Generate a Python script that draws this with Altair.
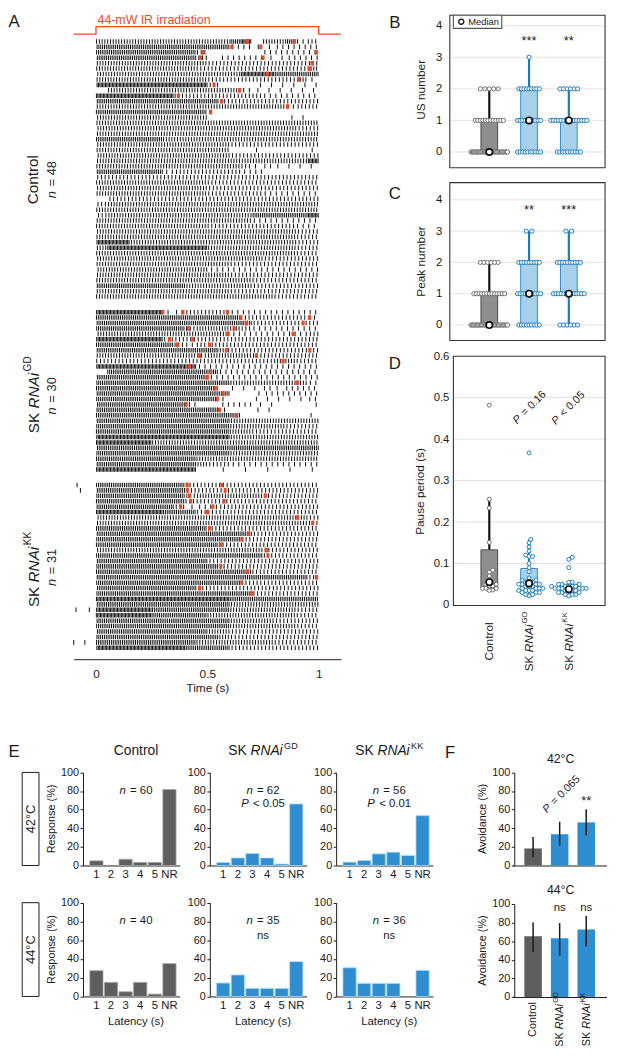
import math
import altair as alt
import pandas as pd

W, H = 609, 1038
FONT = "Liberation Sans"
INK = "#1a1a1a"
RED = "#ea4a2c"
GRAY_BOX, GRAY_EDGE = "#8e8e8e", "#4a4a4a"
BLUE_BOX, BLUE_EDGE = "#a7d0ec", "#3a8cc8"
BLUE_LINE, BLUE_PT, GRAY_PT = "#1f7ab9", "#1c7cc2", "#6e6e6e"
GRAY_BAR, BLUE_BAR = "#5e5e5e", "#2f8ecf"

# ---------------- data ----------------
GROUPS = ["Control", "GD", "KK"]

# Panel A: spikes per 50-ms bin (digit code) for each trial, US (red) times, pre-stimulus spikes
C_ROWS = [
    "55555555555567055623", "66666666666622112222", "66666666640000022222", "66666666630222211222",
    "55555555554444444444", "55555555544444444445", "55555555555557776666", "55555555554444444451",
    "77777777773000111111", "05555555555552111111", "77777773333333322222", "66666666666344444444",
    "55555555555555555244", "66666666661000000000", "55555555550000000110", "55555555555555555555",
    "55555555555555555544", "55555555555555555555", "66666655555555555555", "55555555555544433333",
    "55555555555500100001", "55555555555543334444", "55555555555555555557", "55555555555553121111",
    "66666623333332200000", "44444444333333333333", "55555555553333333333", "55555555554444444444",
    "55555555553333322222", "04444433333333333333", "45555555555555555555", "55555555555555555555",
    "45555555555555666667", "55555555555555222222", "55555555554444333322", "55555555555555555544",
    "55555555555555555544", "77755555555555555544", "57777777775555555544", "55555555555555555544",
    "55555555555555544444", "55555555555544444444", "55555555552222222222", "55555555555544444444",
    "55555555555555333333", "66666666555555444444", "55555555555544444444", "55555555555555554444",
]
C_REDS = [[0.68, 0.89], [0.61, 0.74], [0.48, 0.99], [0.47, 0.75], [0.97], [0.958], [0.77], [0.91],
          [0.53], [0.645], [0.37], [0.565], [0.86], [0.515]] + [[]] * 34
G_ROWS = [
    "77777712444422222222", "66666666666663333332", "66666666666666444444", "66666666355554222222",
    "55555555555522222224", "77777733444444444444", "66666663244444444444", "66666666666544444444",
    "55555555535555444444", "33333333444444445544", "77777777722222222222", "06666666666222222222",
    "66666666662222222222", "66666666666655555552", "66666666666011121222", "66666666666600122222",
    "66666666666100111112", "66666666200222110001", "66666666666100110000", "66666666666660000001",
    "66666666666655555555", "66666666666655555444", "66666666666655444444", "77777777777755555555",
    "77777555555555555555", "66666666666666666666", "66666666666655555555", "66666666655555555555",
    "66666666653322222222", "77777777700101010101",
]
G_REDS = [[0.30, 0.39, 0.59], [0.65, 0.96], [0.675, 0.93], [0.415, 0.62], [0.59, 0.885], [0.33, 0.435],
          [0.365, 0.51], [0.585, 0.96], [0.465, 0.72], [0.84], [0.42], [0.515], [0.50], [0.905], [0.535],
          [0.57], [0.545], [0.405], [0.555], [0.63]] + [[]] * 10
K_ROWS = [
    "66666666344444444444", "66666666344444444444", "66666666455555544444", "66666666344444444444",
    "66666663122444444444", "77777766634444444444", "55555555555555555553", "55555555555555555554",
    "66666666664444444444", "66666666666666444444", "66666666666664444444", "66666666666444444444",
    "55555555555555544444", "66666666666666644444", "66666666664433334444", "66666666666444444444",
    "66666666666666444444", "66666666666666666664", "66666666666663444444", "66666666633444444444",
    "66666666666666344444", "77777777777766666666", "66666666666655555555", "77777666666655555544",
    "77777666665555555544", "66666666666655554444", "66666666666655555544", "66666666665544444444",
    "66666666666544444444", "66666666655555554444", "77777777666644444444",
]
K_REDS = [[0.41, 0.565], [0.41, 0.58], [0.42, 0.76], [0.425, 0.575], [0.38, 0.525], [0.50], [0.905],
          [0.973], [0.51], [0.686], [0.656], [0.56], [0.765], [0.772], [], [0.56], [0.68], [0.99],
          [0.655], [0.465], [0.70]] + [[]] * 10
K_PRE = [[-0.085], [-0.07]] + [[]] * 21 + [[-0.09, -0.03]] + [[]] * 5 + [[-0.1, -0.05]] + [[]]
STIM_T = [-0.1, 0.0, 0.0, 1.0, 1.0, 1.1]
STIM_ON = [0, 0, 1, 1, 0, 0]

# Panels B, C: number of flies at each count value
COUNT_VALUES = [0, 1, 2, 3]
B_N = {"Control": [31, 12, 5, 0], "GD": [10, 10, 9, 1], "KK": [10, 15, 6, 0]}
C_N = {"Control": [29, 13, 6, 0], "GD": [9, 10, 9, 2], "KK": [6, 13, 10, 2]}
B_Q1, B_Q3, B_WLO, B_WHI, B_MED = [0, 0, 0], [1, 2, 1], [0, 0, 0], [2, 3, 2], [0, 1, 1]
C_Q1, C_Q3, C_WLO, C_WHI, C_MED = [0, 0, 1], [1, 2, 2], [0, 0, 0], [2, 3, 3], [0, 1, 1]
# Panel D: pause periods (s)
D_CONTROL = [0.482, 0.255, 0.234, 0.151, 0.084, 0.079, 0.07, 0.06, 0.05, 0.05, 0.046, 0.046,
             0.04, 0.04, 0.04, 0.036, 0.035]
D_GD = [0.367, 0.158, 0.15, 0.14, 0.13, 0.12, 0.117, 0.117, 0.1, 0.09, 0.08, 0.065, 0.06, 0.06,
        0.055, 0.055, 0.055, 0.05, 0.05, 0.05, 0.05, 0.045, 0.045, 0.045, 0.04, 0.04, 0.04, 0.04,
        0.035, 0.035, 0.035, 0.035, 0.03, 0.03, 0.03, 0.025, 0.025, 0.022]
D_KK = [0.115, 0.11, 0.09, 0.055, 0.055, 0.05, 0.05, 0.05, 0.045, 0.045, 0.045, 0.045, 0.045,
        0.04, 0.04, 0.04, 0.04, 0.04, 0.04, 0.035, 0.035, 0.035, 0.035, 0.03, 0.03, 0.03, 0.025,
        0.025, 0.025, 0.022]
D_Q1, D_Q3 = [0.042, 0.036, 0.030], [0.133, 0.088, 0.050]
D_WLO, D_WHI, D_MED = [0.035, 0.022, 0.022], [0.255, 0.158, 0.055], [0.055, 0.052, 0.038]

# Panel E: response latency distributions (%)
LAT = ["1", "2", "3", "4", "5", "NR"]
E42 = {"Control": [5.0, 0.0, 6.7, 3.3, 3.3, 81.7], "GD": [3.2, 8.1, 12.9, 8.1, 1.6, 66.1],
       "KK": [3.6, 5.4, 12.5, 14.3, 10.7, 53.6]}
E44 = {"Control": [27.5, 15.0, 5.0, 15.0, 2.5, 35.0], "GD": [14.3, 22.9, 8.6, 8.6, 8.6, 37.1],
       "KK": [30.6, 13.9, 13.9, 13.9, 0.0, 27.8]}
E_N42 = ["60", "62", "56"]
E_P42 = ["", "< 0.05", "< 0.01"]
E_N44 = ["40", "35", "36"]
E_P44 = ["", "ns", "ns"]
# Panel F: avoidance (%) with error bars
F42, F42_LO, F42_HI = [18.3, 33.6, 46.3], [8.8, 21.2, 32.5], [30.7, 47.0, 60.4]
F44, F44_LO, F44_HI = [65.3, 63.2, 72.7], [48.4, 44.5, 54.7], [80.2, 79.5, 87.0]

# ---------------- helpers ----------------
def cx(p):
    return round(p - 8.0, 2)

def cy(p):
    return round(p - 8.0, 2)

ONE = pd.DataFrame({"k": [0]})
EM = {" ": .278, ".": .278, ",": .278, "-": .333, "=": .584, "<": .584, "(": .333, ")": .333,
      "%": .889, "*": .389, "°": .4, "A": .667, "C": .722, "D": .722, "G": .778, "K": .667,
      "N": .722, "P": .667, "R": .722, "S": .667, "U": .722, "W": .944, "I": .278, "a": .556,
      "c": .5, "d": .556, "e": .556, "i": .222, "l": .222, "m": .833, "n": .556, "o": .556,
      "p": .556, "r": .333, "s": .5, "t": .278, "u": .556, "v": .5, "y": .5}

def tw(s, size):
    return sum(EM.get(c, 0.556) for c in s) * size

layers = []

def text(s, x, y, size=12, angle=0, align="center", baseline="middle", color=INK, style="normal", dy=0):
    return alt.Chart(ONE).mark_text(align=align, baseline=baseline, angle=angle % 360, fontSize=size,
                                    fontStyle=style, color=color, font=FONT, dy=dy).encode(
        x=alt.value(cx(x)), y=alt.value(cy(y)), text=alt.value(s))

def rich(parts, x, y, size, angle=0, color=INK):
    """Pieces of mixed-style text laid end to end; leading/trailing blanks become offsets."""
    items, total = [], 0.0
    prev = None
    for s, kind in parts:
        fs = size * 0.66 if kind == "sup" else size
        if prev == "i":
            total += 0.1 * size
        lead = len(s) - len(s.lstrip(" "))
        total += lead * EM[" "] * fs
        core = s.strip(" ")
        items.append((core, kind, fs, total))
        total += tw(core, fs)
        trail = len(s) - len(s.rstrip(" "))
        total += trail * EM[" "] * fs
        prev = kind
    th = math.radians(angle)
    sx = x - total / 2 * math.cos(th)
    sy = y - total / 2 * math.sin(th)
    out = []
    for s, kind, fs, off in items:
        out.append(alt.Chart(ONE).mark_text(
            align="left", baseline="middle", angle=angle % 360, fontSize=fs,
            fontStyle="italic" if kind == "i" else "normal", dx=round(off, 2),
            dy=round(-0.36 * size, 2) if kind == "sup" else 0, color=color, font=FONT).encode(
            x=alt.value(cx(sx)), y=alt.value(cy(sy)), text=alt.value(s)))
    return out

def sk(tag):
    return [("SK ", "n"), ("RNAi", "i"), (tag, "sup")]

def frame(x0, x1, y0, y1, stroke="#333", fill="white", fop=0.0, sw=1.1):
    return alt.Chart(ONE).mark_rect(fill=fill, fillOpacity=fop, stroke=stroke, strokeWidth=sw).encode(
        x=alt.value(cx(x0)), x2=alt.value(cx(x1)), y=alt.value(cy(y0)), y2=alt.value(cy(y1)))

# ---------------- Panel A: raster ----------------
COUNT = {"0": 0, "1": 1, "2": 2, "3": 3, "4": 3, "5": 4, "6": 6, "7": 8}
BIN = 0.05
ROW0 = {"C": 0.0, "G": 49.87, "K": 81.7}
spk_t, spk_r, red_t, red_r = [], [], [], []
for key, rows, reds in (("C", C_ROWS, C_REDS), ("G", G_ROWS, G_REDS), ("K", K_ROWS, K_REDS)):
    for i, pat in enumerate(rows):
        r = ROW0[key] + i
        ph = ((i * 0.618 + ROW0[key] * 0.37) % 1.0) - 0.5
        for b, ch in enumerate(pat):
            n = COUNT[ch]
            for j in range(n):
                spk_t.append(round(b * BIN + (j + 0.5 + 0.6 * ph) * BIN / n, 4))
                spk_r.append(r)
        for t in reds[i]:
            red_t.append(t)
            red_r.append(r)
        if key == "K":
            for t in K_PRE[i]:
                spk_t.append(t)
                spk_r.append(r)

XA = alt.Scale(domain=[-0.1, 1.1], range=[cx(74.6), cx(345.4)], nice=False, zero=False)
YA = alt.Scale(domain=[0, 111.7], range=[cy(35), cy(649.4)], nice=False, zero=False)
layers.append(alt.Chart(pd.DataFrame({"t": spk_t, "r": spk_r})).mark_tick(
    orient="vertical", thickness=1.0, size=4.6, color="#0d0d0d", opacity=1).encode(
    x=alt.X("t:Q", scale=XA, axis=alt.Axis(orient="bottom", offset=cy(661) - H, values=[0, 0.5, 1],
                                          format="~g", tickSize=0, labelPadding=10, title="Time (s)",
                                          titlePadding=3, labelFontSize=12, titleFontSize=12,
                                          titleFontWeight="normal", labelFlush=False)),
    y=alt.Y("r:Q", scale=YA, axis=None)))
layers.append(alt.Chart(pd.DataFrame({"t": red_t, "r": red_r})).mark_tick(
    orient="vertical", thickness=3.2, size=4.6, color=RED, opacity=1).encode(
    x=alt.X("t:Q", scale=XA, axis=None), y=alt.Y("r:Q", scale=YA, axis=None)))
layers.append(alt.Chart(pd.DataFrame({"t": STIM_T, "on": STIM_ON, "i": range(6)})).mark_line(
    color=RED, strokeWidth=1.3).encode(
    x=alt.X("t:Q", scale=XA, axis=None),
    y=alt.Y("on:Q", scale=alt.Scale(domain=[0, 1], range=[cy(27.5), cy(20)], nice=False), axis=None),
    order="i:Q"))
layers.append(text("44-mW IR irradiation", 156, 17.5, size=12.5, baseline="alphabetic", color=RED))
layers.append(text("A", 8.5, 15, size=17, align="left"))
layers.append(text("Control", 33, 175, size=15.5, angle=270))
layers += rich([("n", "i"), (" = 48", "n")], 53, 175, 13, angle=270)
layers += rich(sk("GD"), 34, 393, 15.5, angle=270)
layers += rich([("n", "i"), (" = 30", "n")], 53, 394, 13, angle=270)
layers += rich(sk("KK"), 34, 570, 15.5, angle=270)
layers += rich([("n", "i"), (" = 31", "n")], 53, 568, 13, angle=270)

# ---------------- Panels B, C, D ----------------
UNIT = 40.3
XB = alt.Scale(domain=[-1, 3], range=[cx(495.7 - UNIT), cx(495.7 + 3 * UNIT)], nice=False, zero=False)

def lin_offsets(k):
    if k <= 0:
        return []
    if k == 1:
        return [0.0]
    if k == 2:
        sp = 5.7
    elif k <= 15:
        sp = max(2.6, 18.0 / (k - 1))
    else:
        sp = 37.0 / (k - 1)
    return [(j - (k - 1) / 2) * sp for j in range(k)]

def swarm(vals, ppu, d=3.5):
    placed, res = [], [0.0] * len(vals)
    cands = [0.0]
    for k in range(1, 60):
        cands += [k * d * 0.5, -k * d * 0.5]
    for i in sorted(range(len(vals)), key=lambda i: vals[i]):
        y = vals[i] * ppu
        for c in cands:
            if all((c - px) ** 2 + (y - py) ** 2 >= d * d for px, py in placed):
                res[i] = c
                placed.append((c, y))
                break
    return res

def box_panel(ys, q1, q3, wlo, whi, med, px, pv, pc, fx0, fx1, fy0, fy1, grid_vals, axis, psize):
    g = [0, 1, 2]
    layers.append(alt.Chart(pd.DataFrame({"v": grid_vals})).mark_rule(color="#e2e2e2", strokeWidth=1).encode(
        y=alt.Y("v:Q", scale=ys, axis=axis), x=alt.value(cx(fx0)), x2=alt.value(cx(fx1))))
    layers.append(alt.Chart(pd.DataFrame({"g": g, "lo": wlo, "hi": whi,
                                          "c": ["#111111", BLUE_LINE, BLUE_LINE]})).mark_rule(strokeWidth=2.2).encode(
        x=alt.X("g:Q", scale=XB, axis=None), y=alt.Y("lo:Q", scale=ys, axis=None), y2="hi:Q",
        color=alt.Color("c:N", scale=None)))
    layers.append(alt.Chart(pd.DataFrame({"x0": [v - 0.21 for v in g], "x1": [v + 0.21 for v in g],
                                          "q1": q1, "q3": q3, "f": [GRAY_BOX, BLUE_BOX, BLUE_BOX],
                                          "s": [GRAY_EDGE, BLUE_EDGE, BLUE_EDGE]})).mark_rect(strokeWidth=1).encode(
        x=alt.X("x0:Q", scale=XB, axis=None), x2="x1:Q", y=alt.Y("q1:Q", scale=ys, axis=None), y2="q3:Q",
        fill=alt.Fill("f:N", scale=None), stroke=alt.Stroke("s:N", scale=None)))
    layers.append(alt.Chart(pd.DataFrame({"x": px, "v": pv, "s": pc})).mark_circle(
        size=psize, fill="white", strokeWidth=1, opacity=1, fillOpacity=1).encode(
        x=alt.X("x:Q", scale=XB, axis=None), y=alt.Y("v:Q", scale=ys, axis=None),
        stroke=alt.Stroke("s:N", scale=None)))
    layers.append(alt.Chart(pd.DataFrame({"g": g, "m": med})).mark_circle(
        size=42, fill="white", stroke="#111111", strokeWidth=1.7, opacity=1, fillOpacity=1).encode(
        x=alt.X("g:Q", scale=XB, axis=None), y=alt.Y("m:Q", scale=ys, axis=None)))
    layers.append(frame(fx0, fx1, fy0, fy1))

def count_points(ndict):
    px, pv, pc = [], [], []
    for gi, gname in enumerate(GROUPS):
        for v, k in zip(COUNT_VALUES, ndict[gname]):
            for off in lin_offsets(k):
                px.append(round(gi + off / UNIT, 4))
                pv.append(v)
                pc.append(GRAY_PT if gi == 0 else BLUE_PT)
    return px, pv, pc

def left_axis(xpage, values, pad, fmt=None):
    kw = dict(orient="left", offset=-cx(xpage), values=values, domain=False, ticks=False,
              labelPadding=pad, title=None, labelFontSize=11.5, grid=False)
    if fmt:
        kw["format"] = fmt
    return alt.Axis(**kw)

# B
YB = alt.Scale(domain=[-0.5, 4.5], range=[cy(163), cy(3)], nice=False, zero=False)
px, pv, pc = count_points(B_N)
box_panel(YB, B_Q1, B_Q3, B_WLO, B_WHI, B_MED, px, pv, pc, 455.7, 613, 8.5, 163, [0, 1, 2, 3, 4],
          left_axis(455.7, [0, 1, 2, 3, 4], 8), 18)
layers.append(alt.Chart(pd.DataFrame({"g": [1, 2], "y": [3.6, 3.6], "s": ["***", "**"]})).mark_text(
    fontSize=13, color=INK, font=FONT, baseline="middle", dy=3).encode(
    x=alt.X("g:Q", scale=XB, axis=None), y=alt.Y("y:Q", scale=YB, axis=None), text="s:N"))
layers.append(frame(459.3, 508.3, 8.5, 21.7, stroke="#555", fop=1))
layers.append(alt.Chart(ONE).mark_circle(size=26, fill="white", stroke=INK, strokeWidth=1.3, opacity=1).encode(
    x=alt.value(cx(467.3)), y=alt.value(cy(15))))
layers.append(text("Median", 474.3, 15.3, size=9.5, align="left"))
layers.append(text("B", 400, 16, size=17))
layers.append(text("US number", 427, 84, size=12, angle=270))

# C
YC = alt.Scale(domain=[-0.5, 4.5], range=[cy(338.2), cy(179.6)], nice=False, zero=False)
px, pv, pc = count_points(C_N)
box_panel(YC, C_Q1, C_Q3, C_WLO, C_WHI, C_MED, px, pv, pc, 455.7, 613, 178, 338, [0, 1, 2, 3, 4],
          left_axis(455.7, [0, 1, 2, 3, 4], 8), 18)
layers.append(alt.Chart(pd.DataFrame({"g": [1, 2], "y": [3.76, 3.76], "s": ["**", "***"]})).mark_text(
    fontSize=13, color=INK, font=FONT, baseline="middle", dy=3).encode(
    x=alt.X("g:Q", scale=XB, axis=None), y=alt.Y("y:Q", scale=YC, axis=None), text="s:N"))
layers.append(text("C", 400, 190, size=17))
layers.append(text("Peak number", 427, 258, size=12, angle=270))

# D
YD = alt.Scale(domain=[0, 0.6], range=[cy(606), cy(354)], nice=False, zero=False)
px, pv, pc = [], [], []
for gi, vals in enumerate([D_CONTROL, D_GD, D_KK]):
    for off, v in zip(swarm(vals, 420.0), vals):
        px.append(round(gi + off / UNIT, 4))
        pv.append(v)
        pc.append(GRAY_PT if gi == 0 else BLUE_PT)
box_panel(YD, D_Q1, D_Q3, D_WLO, D_WHI, D_MED, px, pv, pc, 459.3, 613, 354, 606.5,
          [0.1, 0.2, 0.3, 0.4, 0.5], left_axis(459.3, [0, 0.1, 0.2, 0.3, 0.4, 0.5, 0.6], 4.5, ".1~f"), 16)
layers.append(text("D", 400, 362, size=17))
layers.append(text("Pause period (s)", 426, 491, size=12, angle=270))
layers += rich([("P", "i"), (" = 0.16", "n")], 536.7, 406, 11, angle=315)
layers += rich([("P", "i"), (" < 0.05", "n")], 575.8, 406.7, 11, angle=315)
layers.append(text("Control", 495.7, 643, size=12, angle=270))
layers += rich(sk("GD"), 536.0, 643, 12, angle=270)
layers += rich(sk("KK"), 576.3, 643, 12, angle=270)

# ---------------- Panel E ----------------
E_X0 = [84.0, 212.5, 340.5]
E_CX = [137.7, 266.4, 394.3]
E_ROWS = [(E42, 870.0, 775.7, E_N42, E_P42), (E44, 1002.7, 907.7, E_N44, E_P44)]
for ri, (vals, yb, yt, nl, pl) in enumerate(E_ROWS):
    for gi, gname in enumerate(GROUPS):
        x0 = E_X0[gi]
        df = pd.DataFrame({"lat": LAT, "pct": vals[gname]})
        df = df[df["pct"] > 0]
        xs = alt.Scale(type="band", domain=LAT, range=[cx(x0), cx(x0 + 98)], paddingInner=0.095,
                       paddingOuter=0.358, align=0.65)
        ys = alt.Scale(domain=[0, 100], range=[cy(yb), cy(yt)], nice=False, zero=False)
        layers.append(alt.Chart(df).mark_bar(
            fill=GRAY_BAR if gi == 0 else BLUE_BAR, stroke="#a5a5a5" if gi == 0 else "#a9daf7",
            strokeWidth=0.8).encode(
            x=alt.X("lat:N", scale=xs, sort=LAT,
                    axis=alt.Axis(orient="bottom", offset=cy(yb) - H, title=None, labelAngle=0,
                                  ticks=False, labelPadding=3, labelFontSize=11.5)),
            y=alt.Y("pct:Q", scale=ys,
                    axis=alt.Axis(orient="left", offset=-cx(x0), values=[0, 20, 40, 60, 80, 100],
                                  title=None, tickSize=3, labelPadding=1.5, labelFontSize=11, grid=False))))
        ncx = E_CX[gi]
        layers += rich([("n", "i"), (" = " + nl[gi], "n")], ncx, yt + 18.6 if ri == 0 else yt + 19, 11.5)
        if pl[gi].startswith("<"):
            layers += rich([("P", "i"), (" " + pl[gi], "n")], ncx, 807.7, 11.5)
        elif pl[gi]:
            layers.append(text(pl[gi], ncx, 941.7, size=11.5))
        if ri == 1:
            layers.append(text("Latency (s)", ncx, 1028.3, size=11.5))
    layers.append(text("Response (%)", 53, (yb + yt) / 2, size=11, angle=270))
    layers.append(frame(22.4, 39.4, yt, yb, stroke=INK, fop=1, sw=1))
    layers.append(text("42°C" if ri == 0 else "44°C", 31, (yb + yt) / 2, size=13, angle=270))
layers.append(text("E", 8.5, 755, size=17, align="left"))
layers.append(text("Control", 137.7, 754, size=14))
layers += rich(sk("GD"), 266.4, 754, 14)
layers += rich(sk("KK"), 394.3, 754, 14)

# ---------------- Panel F ----------------
XF = alt.Scale(type="band", domain=GROUPS, range=[cx(519.5), cx(614.5)], paddingInner=0.34, paddingOuter=0.435)
for means, lo, hi, yb, yt in ((F42, F42_LO, F42_HI, 870.0, 775.7), (F44, F44_LO, F44_HI, 1003.3, 909.0)):
    ys = alt.Scale(domain=[0, 100], range=[cy(yb), cy(yt)], nice=False, zero=False)
    df = pd.DataFrame({"g": GROUPS, "m": means, "lo": lo, "hi": hi, "f": [GRAY_BAR, BLUE_BAR, BLUE_BAR]})
    layers.append(alt.Chart(df).mark_bar().encode(
        x=alt.X("g:N", scale=XF, sort=GROUPS,
                axis=alt.Axis(orient="bottom", offset=cy(yb) - H, labels=False, ticks=False, title=None)),
        y=alt.Y("m:Q", scale=ys, axis=alt.Axis(orient="left", offset=-cx(521), values=[0, 20, 40, 60, 80, 100],
                                              title=None, tickSize=3, labelPadding=1.5, labelFontSize=11,
                                              grid=False)),
        fill=alt.Fill("f:N", scale=None)))
    layers.append(alt.Chart(df).mark_rule(color=INK, strokeWidth=1.5).encode(
        x=alt.X("g:N", scale=XF, sort=GROUPS, axis=None), y=alt.Y("lo:Q", scale=ys, axis=None), y2="hi:Q"))
    layers.append(text("Avoidance (%)", 489.3, (yb + yt) / 2, size=11, angle=270))
    if yb < 900:
        layers.append(alt.Chart(pd.DataFrame({"g": ["KK"], "y": [72.4], "s": ["**"]})).mark_text(
            fontSize=13, color=INK, font=FONT, dy=3).encode(
            x=alt.X("g:N", scale=XF, sort=GROUPS, axis=None), y=alt.Y("y:Q", scale=ys, axis=None), text="s:N"))
    else:
        layers.append(alt.Chart(pd.DataFrame({"g": ["GD", "KK"], "y": [95.4, 95.4], "s": ["ns", "ns"]})).mark_text(
            fontSize=11.5, color=INK, font=FONT).encode(
            x=alt.X("g:N", scale=XF, sort=GROUPS, axis=None), y=alt.Y("y:Q", scale=ys, axis=None), text="s:N"))
layers.append(text("F", 456, 756, size=17))
layers.append(text("42°C", 568, 762, size=12.5))
layers.append(text("44°C", 568, 895, size=12.5))
layers += rich([("P", "i"), (" = 0.065", "n")], 569, 798, 11, angle=315)
layers.append(text("Control", 540, 1026, size=11, angle=270))
layers += rich(sk("GD"), 567.7, 1026, 11, angle=270)
layers += rich(sk("KK"), 594.3, 1026, 11, angle=270)

chart = alt.layer(*layers).resolve_scale(x="independent", y="independent").properties(
    width=W, height=H, autosize=alt.AutoSizeParams(type="none"), padding=0
).configure_view(stroke=None).configure_axis(
    labelFont=FONT, titleFont=FONT, labelColor=INK, titleColor=INK, domainColor=INK, tickColor=INK, grid=False)

chart.save("out.html", embed_options={"renderer": "svg", "actions": False})
